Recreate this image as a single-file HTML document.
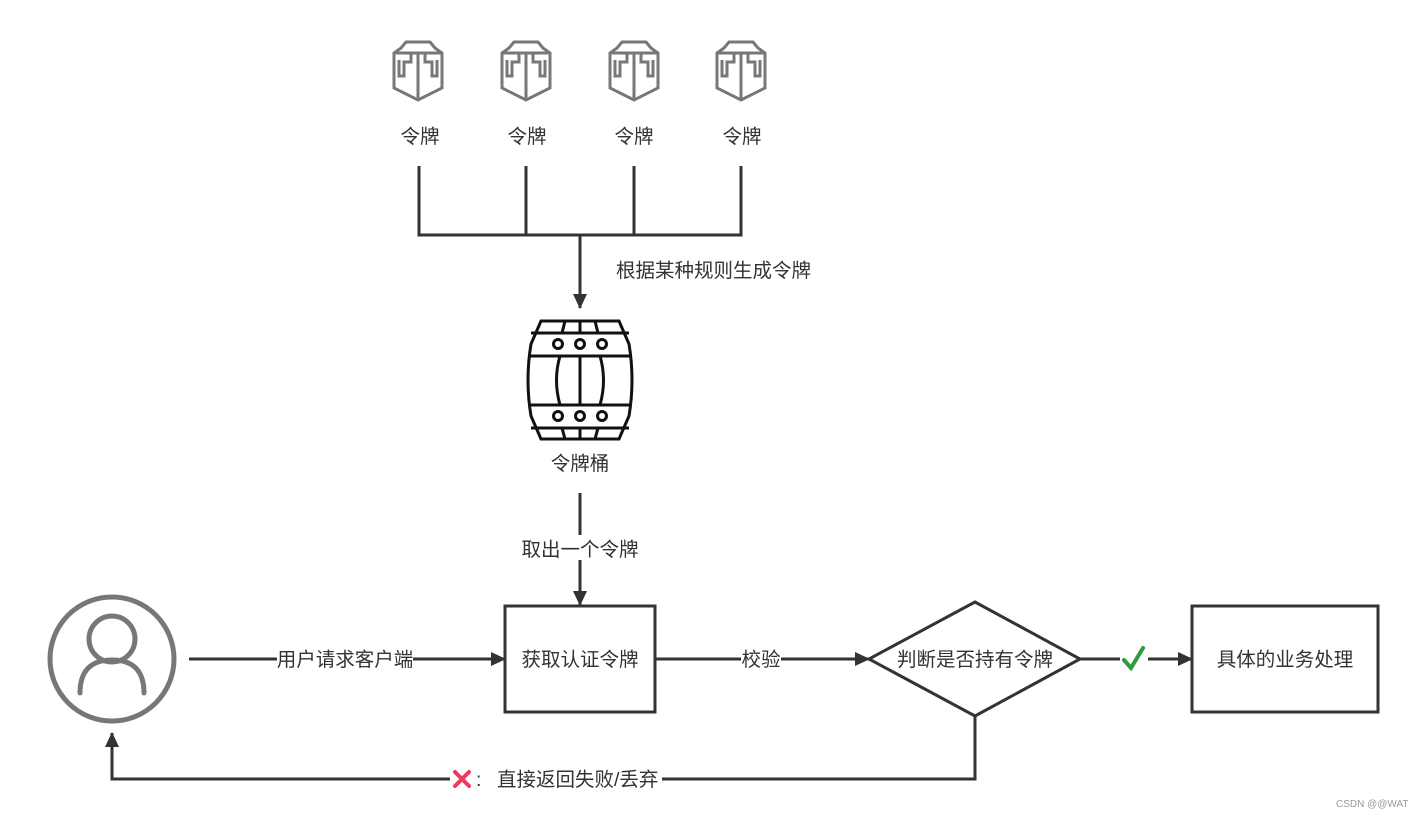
<!DOCTYPE html>
<html><head><meta charset="utf-8"><style>
html,body{margin:0;padding:0;background:#fff;}
svg{display:block;}
text{font-family:"Liberation Sans","Noto Sans CJK SC",sans-serif;fill:#333;}
</style></head><body>
<svg width="1415" height="817" viewBox="0 0 1415 817" xmlns="http://www.w3.org/2000/svg">
<defs>
<g id="shield" fill="none" stroke="#777" stroke-width="3" stroke-linejoin="miter">
<path d="M-12,-28 L12,-28 L17,-22 L24,-17 L24,18 L0,30 L-24,18 L-24,-17 L-17,-22 Z"/>
<path d="M-24,-17 L24,-17"/>
<path d="M0,-17 L0,30"/>
<path d="M-7,-17 L-7,-8 L-14,-8 L-14,6 L-19,6 L-19,-10"/>
<path d="M7,-17 L7,-8 L14,-8 L14,6 L19,6 L19,-10"/>
</g>
<marker id="ah2" markerWidth="16" markerHeight="16" refX="14" refY="8" orient="auto" markerUnits="userSpaceOnUse">
<path d="M0,1 L15,8 L0,15 Z" fill="#333"/>
</marker>
</defs>

<use href="#shield" x="418" y="70"/>
<use href="#shield" x="526" y="70"/>
<use href="#shield" x="634" y="70"/>
<use href="#shield" x="741" y="70"/>
<g font-size="19.5" text-anchor="middle">
<text x="420" y="143">令牌</text>
<text x="527" y="143">令牌</text>
<text x="634" y="143">令牌</text>
<text x="742" y="143">令牌</text>
</g>

<g stroke="#333" stroke-width="3" fill="none">
<path d="M419,166 V235 H741 V166"/>
<path d="M526,166 V235"/>
<path d="M634,166 V235"/>
<path d="M580,235 V308" marker-end="url(#ah2)"/>
</g>
<text x="616" y="277" font-size="19.5">根据某种规则生成令牌</text>

<g stroke="#111" stroke-width="3" fill="none">
<path d="M541,321 L619,321 L629,344 Q635,380 629,416 L619,439 L541,439 L531,416 Q525,380 531,344 Z"/>
<path d="M531,333 H629 M529,356 H631 M529,405 H631 M531,428 H629"/>
<path d="M565,321 L562,333 M595,321 L598,333 M565,439 L562,428 M595,439 L598,428"/>
<path d="M580,321 V333 M580,356 V405 M580,428 V439"/>
<path d="M560,356 Q553,380 560,405 M600,356 Q607,380 600,405"/>
<circle cx="558" cy="344" r="4.5"/><circle cx="580" cy="344" r="4.5"/><circle cx="602" cy="344" r="4.5"/>
<circle cx="558" cy="416" r="4.5"/><circle cx="580" cy="416" r="4.5"/><circle cx="602" cy="416" r="4.5"/>
</g>
<text x="580" y="470" font-size="19.5" text-anchor="middle">令牌桶</text>

<g stroke="#333" stroke-width="3" fill="none">
<path d="M580,493 V535"/>
<path d="M580,560 V605" marker-end="url(#ah2)"/>
</g>
<text x="580" y="556" font-size="19.5" text-anchor="middle">取出一个令牌</text>

<g stroke="#777" stroke-width="5" fill="none" stroke-linecap="round">
<circle cx="112" cy="659" r="62"/>
<circle cx="112" cy="639" r="23"/>
<path d="M80,693 Q80,660 112,660 Q144,660 144,693"/>
</g>

<g stroke="#333" stroke-width="3" fill="none">
<path d="M189,659 H505" marker-end="url(#ah2)"/>
<rect x="505" y="606" width="150" height="106"/>
<path d="M655,659 H869" marker-end="url(#ah2)"/>
<path d="M975,602 L1080,659 L975,716 L869,659 Z"/>
<path d="M1080,659 H1120"/>
<path d="M1148,659 H1192" marker-end="url(#ah2)"/>
<rect x="1192" y="606" width="186" height="106"/>
<path d="M975,716 V779 H112 V733" marker-end="url(#ah2)"/>
</g>
<rect x="277" y="648" width="136" height="22" fill="#fff"/>
<text x="345" y="666" font-size="19.5" text-anchor="middle">用户请求客户端</text>
<text x="580" y="666" font-size="19.5" text-anchor="middle">获取认证令牌</text>
<rect x="741" y="648" width="40" height="22" fill="#fff"/>
<text x="761" y="666" font-size="19.5" text-anchor="middle">校验</text>
<text x="975" y="666" font-size="19.5" text-anchor="middle">判断是否持有令牌</text>
<path d="M1124,660 L1131,668 L1143,648" stroke="#2e9a3c" stroke-width="4" fill="none" stroke-linecap="round"/>
<text x="1285" y="666" font-size="19.5" text-anchor="middle">具体的业务处理</text>

<rect x="450" y="768" width="212" height="24" fill="#fff"/>
<path d="M455,772 L469,786 M469,772 L455,786" stroke="#f0385a" stroke-width="4" stroke-linecap="round"/>
<text x="476" y="786" font-size="19.5">:</text>
<text x="497" y="786" font-size="19.5">直接返回失败/丢弃</text>

<text x="1336" y="807" font-size="10" style="fill:#999">CSDN @@WAT</text>
</svg>
</body></html>
